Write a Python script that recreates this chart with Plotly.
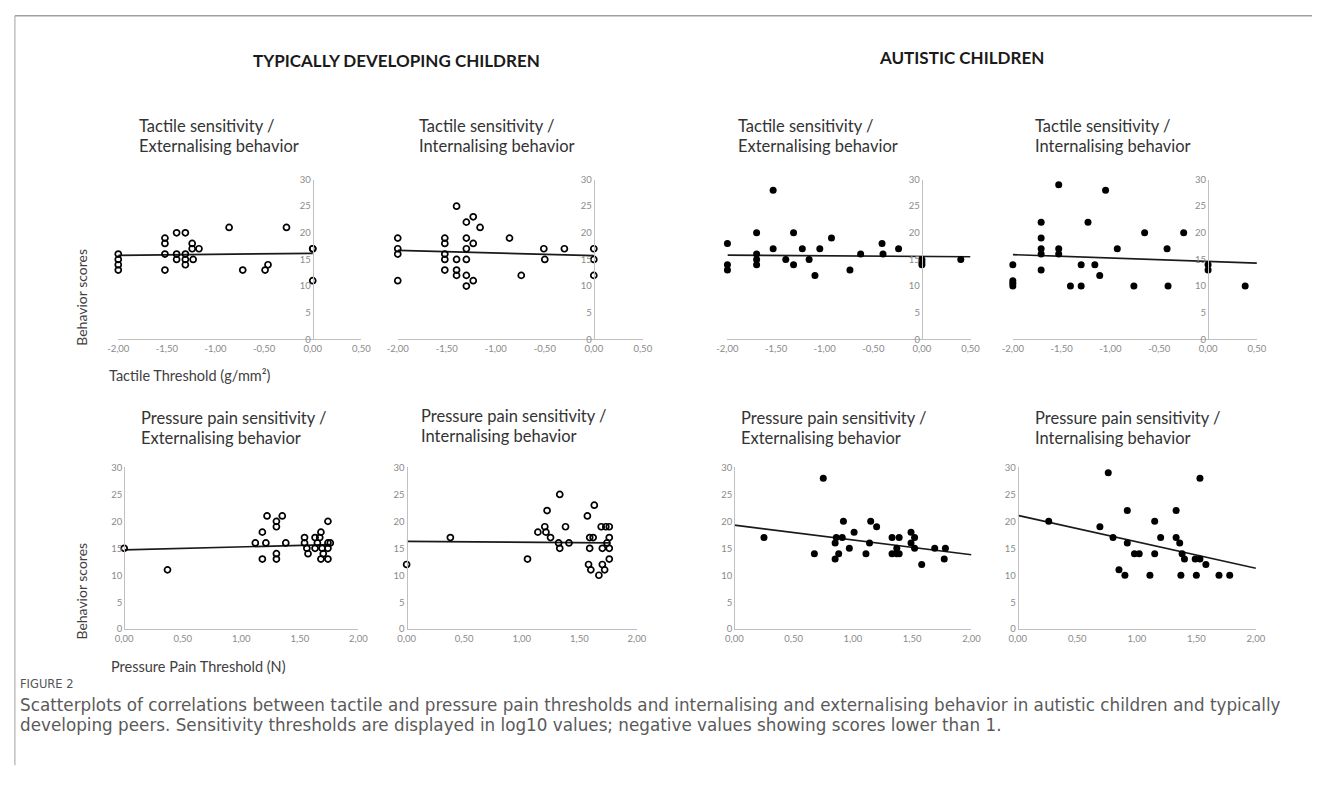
import plotly.graph_objects as go

W, H = 1322, 787

# ---------------- DATA ----------------
# Tactile thresholds (log10 g/mm2) - typically developing
td_tac_ext_x = [-2, -2, -2, -2, -1.52, -1.52, -1.52, -1.52, -1.40, -1.31, -1.40, -1.40, -1.31, -1.31, -1.31,
                -1.24, -1.24, -1.17, -1.23, -0.86, -0.72, -0.49, -0.46, -0.27, 0, 0, 0]
td_tac_ext_y = [16, 15, 14, 13, 19, 18, 16, 13, 20, 20, 16, 15, 16, 15, 14,
                18, 17, 17, 15, 21, 13, 13, 14, 21, 17, 17, 11]
td_tac_ext_trend_x = [-2, 0]
td_tac_ext_trend_y = [15.75, 16.15]

td_tac_int_x = [-2, -2, -2, -2, -1.52, -1.52, -1.52, -1.52, -1.52, -1.40, -1.40, -1.40, -1.40,
                -1.30, -1.23, -1.16, -1.30, -1.23, -1.30, -1.30, -1.30, -1.30, -1.23,
                -0.86, -0.74, -0.51, -0.50, -0.30, 0, 0, 0]
td_tac_int_y = [19, 17, 16, 11, 19, 18, 16, 15, 13, 25, 15, 13, 12,
                22, 23, 21, 19, 18, 17, 15, 12, 10, 11,
                19, 12, 17, 15, 17, 17, 15, 12]
td_tac_int_trend_x = [-2, 0]
td_tac_int_trend_y = [16.7, 15.7]

# Tactile thresholds - autistic
au_tac_ext_x = [-2, -2, -2, -1.70, -1.70, -1.70, -1.70, -1.53, -1.53, -1.40, -1.32, -1.32, -1.23, -1.16,
                -1.10, -1.05, -0.93, -0.74, -0.63, -0.41, -0.40, -0.24, 0, 0, 0, 0.40]
au_tac_ext_y = [18, 14, 13, 20, 16, 15, 14, 28, 17, 15, 20, 14, 17, 15,
                12, 17, 19, 13, 16, 18, 16, 17, 15, 14.5, 14, 15]
au_tac_ext_trend_x = [-2, 0.5]
au_tac_ext_trend_y = [15.8, 15.5]

au_tac_int_x = [-2, -2, -2, -2, -1.71, -1.71, -1.71, -1.71, -1.71, -1.53, -1.53, -1.53,
                -1.41, -1.30, -1.30, -1.23, -1.16, -1.11, -1.05, -0.93, -0.76, -0.65, -0.42, -0.41, -0.25,
                0, 0, 0.38]
au_tac_int_y = [14, 11, 10.5, 10, 22, 19, 17, 16, 13, 29, 17, 16,
                10, 14, 10, 22, 14, 12, 28, 17, 10, 20, 17, 10, 20,
                14, 13, 10]
au_tac_int_trend_x = [-2, 0.5]
au_tac_int_trend_y = [15.9, 14.3]

# Pressure pain thresholds (log10 N) - typically developing
td_pre_ext_x = [0, 0.37, 1.12, 1.18, 1.18, 1.21, 1.22, 1.30, 1.30, 1.30, 1.30, 1.35, 1.38,
                1.54, 1.54, 1.56, 1.57, 1.63, 1.63, 1.65, 1.68, 1.67, 1.68, 1.69, 1.70,
                1.74, 1.74, 1.74, 1.74, 1.76]
td_pre_ext_y = [15, 11, 16, 18, 13, 16, 21, 20, 19, 14, 13, 21, 16,
                17, 16, 15, 14, 17, 15, 16, 18, 17, 13, 15, 14,
                20, 16, 15, 13, 16]
td_pre_ext_trend_x = [0, 1.76]
td_pre_ext_trend_y = [14.7, 15.7]

td_pre_int_x = [0, 0.38, 1.05, 1.14, 1.20, 1.21, 1.22, 1.25, 1.33, 1.32, 1.33, 1.38, 1.41,
                1.57, 1.63, 1.59, 1.62, 1.59, 1.58, 1.60, 1.67,
                1.69, 1.73, 1.76, 1.70, 1.70, 1.72, 1.74, 1.76, 1.76, 1.76]
td_pre_int_y = [12, 17, 13, 18, 19, 18, 22, 17, 25, 16, 15, 19, 16,
                21, 23, 17, 17, 15, 12, 11, 10,
                19, 19, 19, 15, 12, 11, 16, 17, 15, 13]
td_pre_int_trend_x = [0, 1.76]
td_pre_int_trend_y = [16.3, 16.0]

# Pressure pain thresholds - autistic
au_pre_ext_x = [0.25, 0.75, 0.675, 0.85, 0.86, 0.85, 0.88, 0.92, 0.91, 0.97, 1.01, 1.11, 1.14, 1.15, 1.20,
                1.33, 1.33, 1.37, 1.37, 1.39, 1.39, 1.49, 1.49, 1.52, 1.52, 1.58, 1.69, 1.77, 1.78]
au_pre_ext_y = [17, 28, 14, 16, 17, 13, 14, 20, 17, 15, 18, 14, 16, 20, 19,
                17, 14, 15, 14, 17, 14, 18, 16, 17, 15, 12, 15, 13, 15]
au_pre_ext_trend_x = [0, 2.0]
au_pre_ext_trend_y = [19.3, 13.8]

au_pre_int_x = [0.26, 0.76, 0.69, 0.80, 0.85, 0.90, 0.92, 0.92, 0.98, 1.02, 1.11, 1.15, 1.15, 1.20,
                1.33, 1.33, 1.36, 1.37, 1.38, 1.40, 1.49, 1.50, 1.53, 1.53, 1.58, 1.69, 1.78]
au_pre_int_y = [20, 29, 19, 17, 11, 10, 22, 16, 14, 14, 10, 20, 14, 17,
                22, 17, 16, 10, 14, 13, 13, 10, 28, 13, 12, 10, 10]
au_pre_int_trend_x = [0, 2.0]
au_pre_int_trend_y = [21.1, 11.3]

# Tick labels
tac_tickvals = [-2, -1.5, -1, -0.5, 0, 0.5]
tac_ticktext = ["-2,00", "-1,50", "-1,00", "-0,50", "0,00", "0,50"]
pre_tickvals = [0, 0.5, 1, 1.5, 2]
pre_ticktext = ["0,00", "0,50", "1,00", "1,50", "2,00"]
y_tickvals = [0, 5, 10, 15, 20, 25, 30]
y_ticktext = ["0", "5", "10", "15", "20", "25", "30"]

titles_line1 = ["Tactile sensitivity /", "Tactile sensitivity /", "Tactile sensitivity /", "Tactile sensitivity /",
                "Pressure pain sensitivity /", "Pressure pain sensitivity /",
                "Pressure pain sensitivity /", "Pressure pain sensitivity /"]
titles_line2 = ["Externalising behavior", "Internalising behavior", "Externalising behavior", "Internalising behavior",
                "Externalising behavior", "Internalising behavior", "Externalising behavior", "Internalising behavior"]

# ---------------- LAYOUT HELPERS ----------------
def fx(px):
    return px / W

def fy(py):
    return 1 - py / H

panels = [
    (td_tac_ext_x, td_tac_ext_y, td_tac_ext_trend_x, td_tac_ext_trend_y, True, [-2, 0.5], (109, 356), (176, 338), tac_tickvals, tac_ticktext, 128, 122),
    (td_tac_int_x, td_tac_int_y, td_tac_int_trend_x, td_tac_int_trend_y, True, [-2, 0.5], (393, 642), (176, 338), tac_tickvals, tac_ticktext, 413, 122),
    (au_tac_ext_x, au_tac_ext_y, au_tac_ext_trend_x, au_tac_ext_trend_y, False, [-2, 0.5], (728, 975), (176, 338), tac_tickvals, tac_ticktext, 737, 122),
    (au_tac_int_x, au_tac_int_y, au_tac_int_trend_x, au_tac_int_trend_y, False, [-2, 0.5], (1018, 1266), (176, 338), tac_tickvals, tac_ticktext, 1038, 122),
    (td_pre_ext_x, td_pre_ext_y, td_pre_ext_trend_x, td_pre_ext_trend_y, True, [0, 2], (115, 353), (468, 632), pre_tickvals, pre_ticktext, 130, 418),
    (td_pre_int_x, td_pre_int_y, td_pre_int_trend_x, td_pre_int_trend_y, True, [0, 2], (402, 636), (468, 632), pre_tickvals, pre_ticktext, 415, 416),
    (au_pre_ext_x, au_pre_ext_y, au_pre_ext_trend_x, au_pre_ext_trend_y, False, [0, 2], (735, 976), (468, 632), pre_tickvals, pre_ticktext, 740, 418),
    (au_pre_int_x, au_pre_int_y, au_pre_int_trend_x, au_pre_int_trend_y, False, [0, 2], (1023, 1265), (468, 632), pre_tickvals, pre_ticktext, 1038, 418),
]

AXIS_COLOR = "#c0c0c0"
TICK_FONT = dict(family="Lato, Open Sans, sans-serif", size=9.5, color="#8a8a8a")
TEXT_FONT = "Lato, Open Sans, sans-serif"
CAPTION_FONT = "DejaVu Sans, Open Sans, sans-serif"

fig = go.Figure()
layout = dict(
    width=W, height=H,
    margin=dict(l=0, r=0, t=0, b=0),
    paper_bgcolor="white", plot_bgcolor="white",
    showlegend=False,
)
annotations = []

for i, (xs, ys, tx, ty, hollow, xr, xdom, ydom, tv, tt, tl, tt_top) in enumerate(panels):
    n = i + 1
    xa = "x" if n == 1 else f"x{n}"
    ya = "y" if n == 1 else f"y{n}"
    xkey = "xaxis" if n == 1 else f"xaxis{n}"
    ykey = "yaxis" if n == 1 else f"yaxis{n}"

    if hollow:
        marker = dict(symbol="circle-open", size=6, color="black", line=dict(width=1.7, color="black"))
    else:
        marker = dict(symbol="circle", size=7, color="black")

    fig.add_trace(go.Scatter(x=tx, y=ty, mode="lines", line=dict(color="#1a1a1a", width=1.7),
                             xaxis=xa, yaxis=ya, cliponaxis=False, hoverinfo="skip"))
    fig.add_trace(go.Scatter(x=xs, y=ys, mode="markers", marker=marker,
                             xaxis=xa, yaxis=ya, cliponaxis=False))

    x0, x1 = fx(xdom[0]), fx(xdom[1])
    layout[xkey] = dict(domain=[x0, x1], range=xr, anchor=ya, showgrid=False, zeroline=False,
                        showline=True, linecolor=AXIS_COLOR, linewidth=1.2, ticks="",
                        tickvals=tv, ticktext=tt, tickfont=TICK_FONT, fixedrange=True)
    # y axis crosses the x axis at x = 0
    pos = x0 + (0 - xr[0]) / (xr[1] - xr[0]) * (x1 - x0)
    layout[ykey] = dict(domain=[fy(ydom[1]), fy(ydom[0])], range=[0, 30], anchor="free", position=pos,
                        showgrid=False, zeroline=False, showline=True,
                        linecolor=AXIS_COLOR, linewidth=1.2, ticks="", tickvals=y_tickvals,
                        ticktext=y_ticktext, tickfont=TICK_FONT, fixedrange=True)

    for k, line_text in enumerate((titles_line1[i], titles_line2[i])):
        annotations.append(dict(text=line_text, x=fx(tl), y=fy(tt_top + 20 * k), xref="paper", yref="paper",
                                xanchor="left", yanchor="middle", showarrow=False,
                                font=dict(family=TEXT_FONT, size=16.5, color="#333333")))

# Group headers
annotations.append(dict(text="<b>TYPICALLY DEVELOPING CHILDREN</b>", x=fx(392), y=fy(55), xref="paper", yref="paper",
                        xanchor="center", yanchor="middle", showarrow=False,
                        font=dict(family=TEXT_FONT, size=17, color="#1a1a1a")))
annotations.append(dict(text="<b>AUTISTIC CHILDREN</b>", x=fx(966), y=fy(52), xref="paper", yref="paper",
                        xanchor="center", yanchor="middle", showarrow=False,
                        font=dict(family=TEXT_FONT, size=17, color="#1a1a1a")))

# Axis titles
annotations.append(dict(text="Tactile Threshold (g/mm²)", x=fx(98), y=fy(375), xref="paper", yref="paper",
                        xanchor="left", yanchor="middle", showarrow=False,
                        font=dict(family=TEXT_FONT, size=14.5, color="#404040")))
annotations.append(dict(text="Pressure Pain Threshold (N)", x=fx(100), y=fy(670), xref="paper", yref="paper",
                        xanchor="left", yanchor="middle", showarrow=False,
                        font=dict(family=TEXT_FONT, size=14.5, color="#404040")))
for cy in (295, 593):
    annotations.append(dict(text="Behavior scores", x=fx(72), y=fy(cy), xref="paper", yref="paper",
                            xanchor="center", yanchor="middle", textangle=-90, showarrow=False,
                            font=dict(family=TEXT_FONT, size=14, color="#404040")))

# Caption
annotations.append(dict(text="FIGURE 2", x=fx(7), y=fy(688), xref="paper", yref="paper",
                        xanchor="left", yanchor="middle", showarrow=False,
                        font=dict(family=CAPTION_FONT, size=11.5, color="#555555")))
annotations.append(dict(text="Scatterplots of correlations between tactile and pressure pain thresholds and internalising and externalising behavior in autistic children and typically",
                        x=fx(7), y=fy(709), xref="paper", yref="paper",
                        xanchor="left", yanchor="middle", showarrow=False,
                        font=dict(family=CAPTION_FONT, size=16.8, color="#5a5a5a")))
annotations.append(dict(text="developing peers. Sensitivity thresholds are displayed in log10 values; negative values showing scores lower than 1.",
                        x=fx(7), y=fy(729), xref="paper", yref="paper",
                        xanchor="left", yanchor="middle", showarrow=False,
                        font=dict(family=CAPTION_FONT, size=16.8, color="#5a5a5a")))

layout["annotations"] = annotations
layout["shapes"] = [
    dict(type="line", xref="paper", yref="paper", x0=fx(4), x1=1, y0=fy(10), y1=fy(10),
         line=dict(color="#a0a0a0", width=1.5)),
    dict(type="line", xref="paper", yref="paper", x0=fx(4), x1=fx(4), y0=fy(10), y1=fy(770),
         line=dict(color="#a0a0a0", width=1)),
]

fig.update_layout(**layout)
fig.write_html("out.html", config={"displayModeBar": False},
               post_script="document.body.style.margin='0';")
